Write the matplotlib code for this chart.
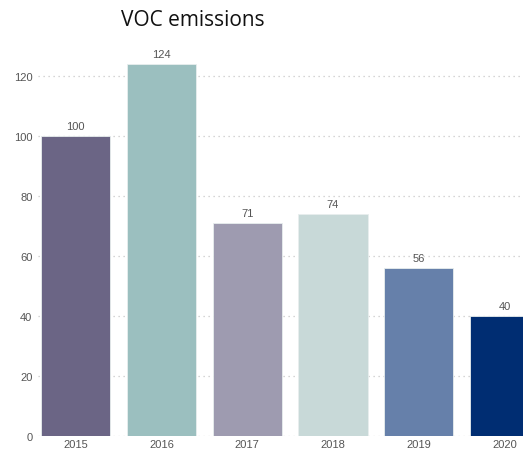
import matplotlib
matplotlib.use('Agg')
import matplotlib.pyplot as plt
import numpy as np

years = ['2015', '2016', '2017', '2018', '2019', '2020']
values = [100, 124, 71, 74, 56, 40]
colors = ['#6b6585', '#9bbfbf', '#9e9bb0', '#c8d9d8', '#6680aa', '#002d72']
yticks = [0, 20, 40, 60, 80, 100, 120]

W, H = 523, 452
fig = plt.figure(figsize=(W / 100, H / 100), dpi=100)
# axes runs off the right edge, like the clipped original
ax = fig.add_axes([38 / W, 1 - 437 / H, 1 - 38 / W, (437 - 50) / H])

x = np.arange(len(years))
ax.bar(x, values, width=0.81, color=colors, edgecolor='#e8eeee', linewidth=0.6, zorder=3)
for xi, v in zip(x, values):
    ax.text(xi, v + 1.5, f'{v}', ha='center', va='bottom', fontsize=8, color='#555555',
            family='Liberation Sans')

ax.set_xlim(-0.44, 5.216)
ax.set_ylim(0, 129)
ax.set_yticks(yticks)
ax.set_xticks(x)
ax.set_xticklabels(years)
ax.grid(axis='y', linestyle=(0, (1, 3)), color='#c8c8c8', linewidth=0.9, zorder=0)
for s in ax.spines.values():
    s.set_visible(False)
ax.tick_params(length=0, labelsize=8, colors='#555555')
ax.tick_params(axis='x', pad=2.5)
ax.tick_params(axis='y', pad=4)
for lab in ax.get_xticklabels() + ax.get_yticklabels():
    lab.set_family('Liberation Sans')

fig.text(193 / W, 1 - 20 / H, 'VOC emissions', ha='center', va='center', fontsize=15,
         family='Open Sans', color='#111111')

fig.savefig('out.png', dpi=100)
